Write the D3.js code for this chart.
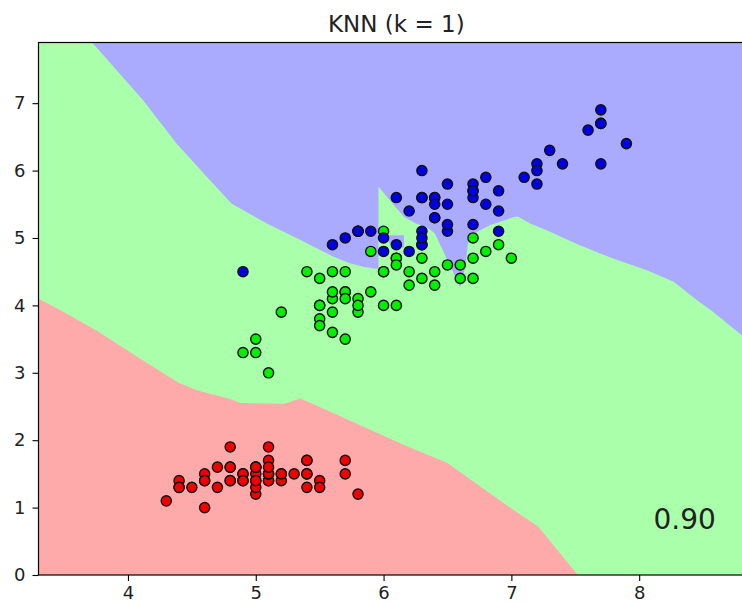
<!DOCTYPE html>
<html lang="en">
<head>
<meta charset="UTF-8">
<title>KNN (k = 1)</title>
<script src="https://d3js.org/d3.v7.min.js"></script>
<style>
  html, body { margin: 0; padding: 0; background: #fff; }
  svg text { font-family: "DejaVu Sans", sans-serif; fill: #222; }
</style>
</head>
<body>
<div id="chart"></div>
<script>
// iris: sepal length (x) vs petal length (y), one pair of arrays per class
const setosaX = [5.1,4.9,4.7,4.6,5.0,5.4,4.6,5.0,4.4,4.9,5.4,4.8,4.8,4.3,5.8,5.7,5.4,5.1,5.7,5.1,5.4,5.1,4.6,5.1,4.8,5.0,5.0,5.2,5.2,4.7,4.8,5.4,5.2,5.5,4.9,5.0,5.5,4.9,4.4,5.1,5.0,4.5,4.4,5.0,5.1,4.8,5.1,4.6,5.3,5.0];
const setosaY = [1.4,1.4,1.3,1.5,1.4,1.7,1.4,1.5,1.4,1.5,1.5,1.6,1.4,1.1,1.2,1.5,1.3,1.4,1.7,1.5,1.7,1.5,1.0,1.7,1.9,1.6,1.6,1.5,1.4,1.6,1.6,1.5,1.5,1.4,1.5,1.2,1.3,1.4,1.3,1.5,1.3,1.3,1.3,1.6,1.9,1.4,1.6,1.4,1.5,1.4];
const versicolorX = [7.0,6.4,6.9,5.5,6.5,5.7,6.3,4.9,6.6,5.2,5.0,5.9,6.0,6.1,5.6,6.7,5.6,5.8,6.2,5.6,5.9,6.1,6.3,6.1,6.4,6.6,6.8,6.7,6.0,5.7,5.5,5.5,5.8,6.0,5.4,6.0,6.7,6.3,5.6,5.5,5.5,6.1,5.8,5.0,5.6,5.7,5.7,6.2,5.1,5.7];
const versicolorY = [4.7,4.5,4.9,4.0,4.6,4.5,4.7,3.3,4.6,3.9,3.5,4.2,4.0,4.7,3.6,4.4,4.5,4.1,4.5,3.9,4.8,4.0,4.9,4.7,4.3,4.4,4.8,5.0,4.5,3.5,3.8,3.7,3.9,5.1,4.5,4.5,4.7,4.4,4.1,4.0,4.4,4.6,4.0,3.3,4.2,4.2,4.2,4.3,3.0,4.1];
const virginicaX = [6.3,5.8,7.1,6.3,6.5,7.6,4.9,7.3,6.7,7.2,6.5,6.4,6.8,5.7,5.8,6.4,6.5,7.7,7.7,6.0,6.9,5.6,7.7,6.3,6.7,7.2,6.2,6.1,6.4,7.2,7.4,7.9,6.4,6.3,6.1,7.7,6.3,6.4,6.0,6.9,6.7,6.9,5.8,6.8,6.7,6.7,6.3,6.5,6.2,5.9];
const virginicaY = [6.0,5.1,5.9,5.6,5.8,6.6,4.5,6.3,5.8,6.1,5.1,5.3,5.5,5.0,5.1,5.3,5.5,6.7,6.9,5.0,5.7,4.9,6.7,4.9,5.7,6.0,4.8,4.9,5.6,5.8,6.1,6.4,5.6,5.1,5.6,6.1,5.6,5.5,4.8,5.4,5.6,5.1,5.1,5.9,5.7,5.2,5.0,5.2,5.4,5.1];

// decision region outlines
const redBoundary = [[3.3,4.10],[3.49,3.91],[3.76,3.62],[4.02,3.30],[4.28,2.99],[4.40,2.85],[4.54,2.74],[4.80,2.61],[4.88,2.55],[5.22,2.54],[5.35,2.62],[5.61,2.40],[5.90,2.15],[6.16,1.93],[6.50,1.66],[6.76,1.31],[7.02,0.96],[7.21,0.72],[7.36,0.37],[7.52,0.0],[3.3,0.0]];
const blueBoundary = [[3.72,7.9],[4.12,7.04],[4.38,6.40],[4.62,5.90],[4.81,5.51],[5.09,5.21],[5.35,4.97],[5.61,4.72],[5.74,4.62],[5.85,4.57],[5.96,4.54],[5.96,5.76],[6.07,5.51],[6.16,5.31],[6.25,5.22],[6.34,5.16],[6.40,5.07],[6.60,4.27],[6.64,4.57],[6.66,4.92],[6.73,5.09],[6.83,5.19],[7.02,5.31],[7.05,5.32],[7.15,5.21],[7.28,5.11],[7.54,4.89],[7.80,4.69],[8.06,4.52],[8.27,4.35],[8.45,4.08],[8.58,3.90],[8.80,3.56],[8.9,3.41],[8.9,7.9]];
const blueNotch = [[6.02,5.00],[6.04,5.04],[6.16,5.04],[6.16,4.86],[6.07,4.85]];

const xTicks = [4, 5, 6, 7, 8];
const yTicks = [0, 1, 2, 3, 4, 5, 6, 7];
const title = "KNN (k = 1)";
const score = "0.90";

const width = 742, height = 604;
const plot = { left: 38.5, right: 754.2, top: 42.5, bottom: 575 };

const x = d3.scaleLinear().domain([3.3, 8.9]).range([plot.left, plot.right]);
const y = d3.scaleLinear().domain([0, 7.9]).range([plot.bottom, plot.top]);

const svg = d3.select("#chart").append("svg")
    .attr("width", width)
    .attr("height", height);

svg.append("clipPath").attr("id", "plot-clip")
    .append("rect")
    .attr("x", plot.left).attr("y", plot.top)
    .attr("width", plot.right - plot.left).attr("height", plot.bottom - plot.top);

const g = svg.append("g").attr("clip-path", "url(#plot-clip)");

// green background, then red and blue regions
g.append("rect")
    .attr("x", plot.left).attr("y", plot.top)
    .attr("width", plot.right - plot.left).attr("height", plot.bottom - plot.top)
    .attr("fill", "#aaffaa");

const area = d3.line().x(d => x(d[0])).y(d => y(d[1]));

g.append("path").attr("d", area(redBoundary) + "Z").attr("fill", "#ffaaaa");
g.append("path").attr("d", area(blueBoundary) + "Z").attr("fill", "#aaaaff");
g.append("path").attr("d", area(blueNotch) + "Z").attr("fill", "#aaaaff");

// points
const groups = [
    { xs: setosaX, ys: setosaY, color: "#f00000" },
    { xs: versicolorX, ys: versicolorY, color: "#00f000" },
    { xs: virginicaX, ys: virginicaY, color: "#0000e0" }
];
const points = [];
groups.forEach(grp => grp.xs.forEach((v, i) => points.push({ x: v, y: grp.ys[i], color: grp.color })));

g.selectAll("circle.pt")
    .data(points)
    .enter()
    .append("circle")
    .attr("class", "pt")
    .attr("cx", d => x(d.x))
    .attr("cy", d => y(d.y))
    .attr("r", 5.1)
    .attr("fill", d => d.color)
    .attr("stroke", "#111")
    .attr("stroke-width", 1.4);

// score
g.append("text")
    .attr("x", x(8.6))
    .attr("y", y(0.68))
    .attr("text-anchor", "end")
    .attr("font-size", "28px")
    .text(score);

// frame
svg.append("rect")
    .attr("x", plot.left).attr("y", plot.top)
    .attr("width", plot.right - plot.left).attr("height", plot.bottom - plot.top)
    .attr("fill", "none")
    .attr("stroke", "#000")
    .attr("stroke-width", 1.2);

// axes
const xAxis = svg.append("g")
    .attr("transform", `translate(0, ${plot.bottom})`)
    .call(d3.axisBottom(x).tickValues(xTicks).tickSize(6).tickPadding(5).tickFormat(d3.format("d")));
const yAxis = svg.append("g")
    .attr("transform", `translate(${plot.left}, 0)`)
    .call(d3.axisLeft(y).tickValues(yTicks).tickSize(6).tickPadding(7).tickFormat(d3.format("d")));

[xAxis, yAxis].forEach(a => {
    a.select(".domain").remove();
    a.selectAll("line").attr("stroke", "#000").attr("stroke-width", 1.1);
    a.selectAll("text").attr("font-size", "18px").attr("fill", "#222")
        .style("font-family", "'DejaVu Sans', sans-serif");
});

// title
svg.append("text")
    .attr("x", (plot.left + plot.right) / 2)
    .attr("y", 32)
    .attr("text-anchor", "middle")
    .attr("font-size", "23px")
    .text(title);
</script>
</body>
</html>
